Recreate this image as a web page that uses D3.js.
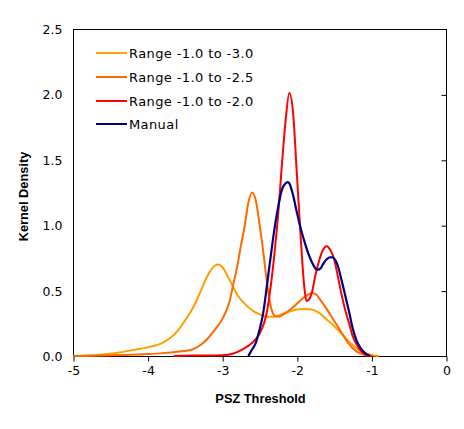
<!DOCTYPE html>
<html>
<head>
<meta charset="utf-8">
<script src="https://cdn.jsdelivr.net/npm/d3@7"></script>
<style>
  html, body { margin: 0; padding: 0; background: #fff; }
  svg { display: block; }
</style>
</head>
<body>
<svg id="chart" width="464" height="429"></svg>
<script>
// ---- Data ----
const seriesNames = ["Range -1.0 to -3.0", "Range -1.0 to -2.5", "Range -1.0 to -2.0", "Manual"];

const xRange30 = [-5,-4.8,-4.6,-4.4,-4.2,-4.0,-3.8,-3.6,-3.5,-3.4,-3.3,-3.2,-3.1,-3.05,-3.0,-2.9,-2.8,-2.7,-2.6,-2.5,-2.4,-2.3,-2.2,-2.1,-2.0,-1.9,-1.8,-1.7,-1.6,-1.5,-1.4,-1.3,-1.2,-1.1,-1.0,-0.9];
const yRange30 = [0,0.003,0.012,0.025,0.045,0.066,0.10,0.19,0.27,0.36,0.48,0.61,0.69,0.70,0.68,0.58,0.47,0.40,0.35,0.32,0.30,0.30,0.32,0.34,0.355,0.36,0.355,0.33,0.28,0.23,0.17,0.11,0.06,0.025,0.008,0];

const xRange25 = [-5,-4.6,-4.2,-4.0,-3.8,-3.6,-3.4,-3.3,-3.2,-3.1,-3.0,-2.9,-2.85,-2.8,-2.75,-2.7,-2.65,-2.6,-2.55,-2.5,-2.45,-2.4,-2.35,-2.3,-2.25,-2.2,-2.1,-2.0,-1.9,-1.8,-1.75,-1.7,-1.6,-1.5,-1.4,-1.3,-1.2,-1.1,-1.0];
const yRange25 = [0,0.003,0.01,0.015,0.022,0.033,0.05,0.08,0.13,0.2,0.28,0.42,0.55,0.68,0.84,0.99,1.17,1.25,1.19,1.01,0.80,0.56,0.38,0.31,0.30,0.31,0.35,0.40,0.45,0.48,0.475,0.44,0.36,0.27,0.18,0.09,0.035,0.01,0];

const xRange20 = [-3.65,-3.4,-3.2,-3.0,-2.9,-2.8,-2.7,-2.6,-2.5,-2.4,-2.35,-2.3,-2.25,-2.2,-2.15,-2.1,-2.05,-2.0,-1.95,-1.9,-1.87,-1.84,-1.8,-1.75,-1.7,-1.65,-1.6,-1.55,-1.5,-1.45,-1.4,-1.35,-1.3,-1.25,-1.2,-1.15,-1.1,-1.05,-1.0];
const yRange20 = [0,0.003,0.004,0.006,0.012,0.03,0.06,0.1,0.17,0.34,0.53,0.78,1.08,1.46,1.80,2.01,1.86,1.40,0.93,0.53,0.42,0.43,0.48,0.62,0.73,0.81,0.84,0.81,0.74,0.61,0.47,0.35,0.25,0.15,0.09,0.045,0.018,0.005,0];

const xManual = [-2.65,-2.6,-2.55,-2.5,-2.45,-2.4,-2.35,-2.3,-2.25,-2.2,-2.15,-2.12,-2.1,-2.05,-2.0,-1.95,-1.9,-1.85,-1.8,-1.75,-1.72,-1.68,-1.65,-1.6,-1.55,-1.52,-1.5,-1.45,-1.4,-1.35,-1.3,-1.25,-1.2,-1.15,-1.1,-1.05,-1.02];
const yManual = [0,0.05,0.1,0.2,0.33,0.54,0.76,0.97,1.14,1.27,1.32,1.33,1.32,1.23,1.10,0.98,0.88,0.79,0.72,0.67,0.66,0.67,0.70,0.74,0.755,0.755,0.745,0.69,0.58,0.46,0.34,0.21,0.12,0.065,0.03,0.008,0];

const xTicks = [-5,-4,-3,-2,-1,0];
const yTicks = [0,0.5,1.0,1.5,2.0,2.5];

// ---- Layout ----
const svg = d3.select("#chart");
const L = 73, R = 446, T = 29, B = 356;
const x = d3.scaleLinear().domain([-5, 0]).range([L, R]);
const y = d3.scaleLinear().domain([0, 2.5]).range([B, T]);

const colors = ["#FFA000", "#FF6A00", "#FF0000", "#000080"];
const series = [
  {name: seriesNames[0], xs: xRange30, ys: yRange30, color: colors[0]},
  {name: seriesNames[1], xs: xRange25, ys: yRange25, color: colors[1]},
  {name: seriesNames[2], xs: xRange20, ys: yRange20, color: colors[2]},
  {name: seriesNames[3], xs: xManual,  ys: yManual,  color: colors[3]}
];

svg.append("rect").attr("width", 464).attr("height", 429).attr("fill", "#fff");

// Plot frame
svg.append("rect")
  .attr("x", L + 0.5).attr("y", T + 0.5)
  .attr("width", R - L).attr("height", B - T)
  .attr("fill", "none").attr("stroke", "#000").attr("stroke-width", 1);

// Series lines
const line = d3.line()
  .x(d => x(d[0]))
  .y(d => y(d[1]))
  .curve(d3.curveMonotoneX);

series.forEach(s => {
  const pts = s.xs.map((v, i) => [v, s.ys[i]]);
  svg.append("path")
    .datum(pts)
    .attr("d", line)
    .attr("fill", "none")
    .attr("stroke", s.color)
    .attr("stroke-width", s.name === "Manual" ? 2.2 : 2)
    .attr("stroke-linejoin", "round");
});

// X axis (ticks pointing down)
const xAxis = d3.axisBottom(x).tickValues(xTicks).tickSize(5).tickPadding(5)
  .tickFormat(d => String(d));
const gx = svg.append("g").attr("transform", `translate(0.5,${B + 0.5})`).call(xAxis);
gx.select(".domain").remove();
gx.selectAll("line").attr("stroke", "#000");
gx.selectAll("text").attr("font-family", "'DejaVu Sans', Verdana, sans-serif")
  .attr("font-size", 12.5).attr("fill", "#000");

// Y axis labels on the left (no tick marks)
const yAxis = d3.axisLeft(y).tickValues(yTicks).tickSize(0).tickPadding(11)
  .tickFormat(d3.format(".1f"));
const gy = svg.append("g").attr("transform", `translate(${L + 0.5},0.5)`).call(yAxis);
gy.select(".domain").remove();
gy.selectAll("text").attr("font-family", "'DejaVu Sans', Verdana, sans-serif")
  .attr("font-size", 12.5).attr("fill", "#000");

// Y tick marks on the right border, pointing inward
const yRight = d3.axisLeft(y).tickValues(yTicks.filter(v => v > 0 && v < 2.5)).tickSize(5).tickFormat("");
const gyr = svg.append("g").attr("transform", `translate(${R + 0.5},0.5)`).call(yRight);
gyr.select(".domain").remove();
gyr.selectAll("line").attr("stroke", "#000");

// Axis titles
svg.append("text")
  .attr("x", (L + R) / 2 + 1).attr("y", 403)
  .attr("text-anchor", "middle")
  .attr("font-family", "'Liberation Sans', Arial, sans-serif")
  .attr("font-weight", "bold").attr("font-size", 12.8)
  .text("PSZ Threshold");

svg.append("text")
  .attr("transform", `translate(28,${(T + B) / 2 + 4}) rotate(-90)`)
  .attr("text-anchor", "middle")
  .attr("font-family", "'Liberation Sans', Arial, sans-serif")
  .attr("font-weight", "bold").attr("font-size", 12.8)
  .text("Kernel Density");

// Legend
const legendY = [53, 77, 101, 124];
const lg = svg.append("g");
series.forEach((s, i) => {
  lg.append("line")
    .attr("x1", 96).attr("x2", 127)
    .attr("y1", legendY[i]).attr("y2", legendY[i])
    .attr("stroke", s.color).attr("stroke-width", 2);
  lg.append("text")
    .attr("x", 129).attr("y", legendY[i])
    .attr("dy", "0.36em")
    .attr("font-family", "'DejaVu Sans', Verdana, sans-serif")
    .attr("font-size", 13).attr("letter-spacing", "0.4px").attr("fill", "#000")
    .text(s.name);
});
</script>
</body>
</html>
